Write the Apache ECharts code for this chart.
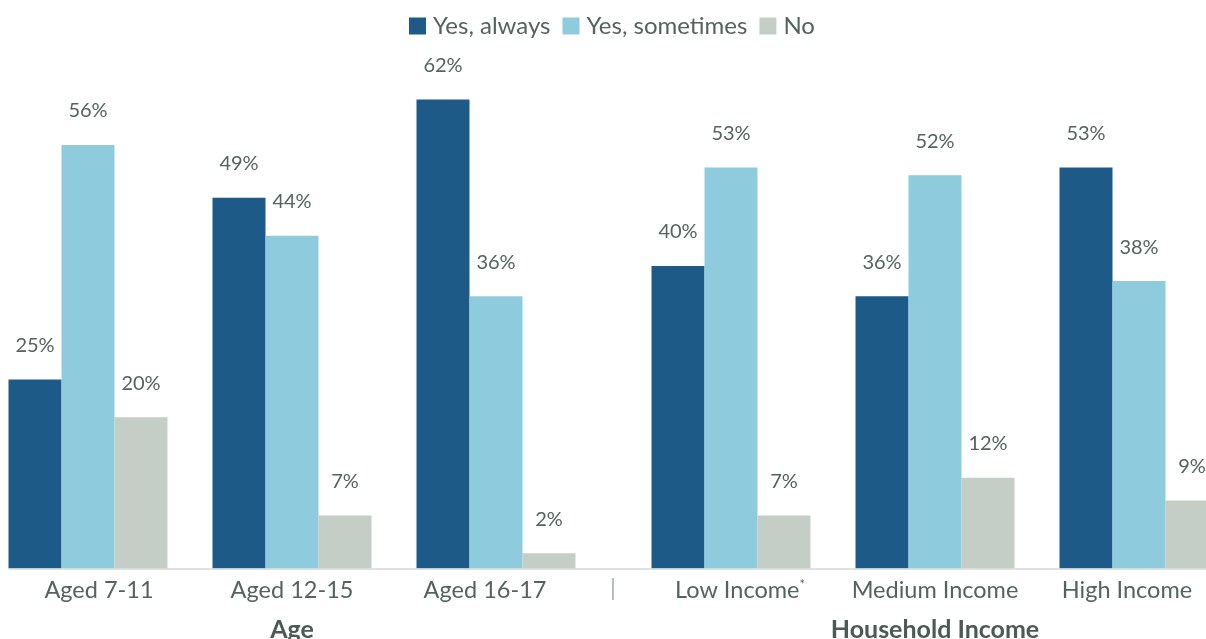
<!DOCTYPE html>
<html>
<head>
<meta charset="utf-8">
<script src="https://cdn.jsdelivr.net/npm/echarts@6/dist/echarts.min.js"></script>
<style>
  html, body { margin: 0; padding: 0; background: #ffffff; }
  #chart { width: 1206px; height: 639px; }
</style>
</head>
<body>
<div id="chart"></div>
<script>
// Survey answers by age group and by household income (percent)
const ageGroups = ['Aged 7-11', 'Aged 12-15', 'Aged 16-17'];
const incomeGroups = ['Low Income*', 'Medium Income', 'High Income'];
const seriesNames = ['Yes, always', 'Yes, sometimes', 'No'];

const ageAlways = [25, 49, 62];
const ageSometimes = [56, 44, 36];
const ageNo = [20, 7, 2];

const incomeAlways = [40, 36, 53];
const incomeSometimes = [53, 52, 38];
const incomeNo = [7, 12, 9];

const colors = ['#1e5a87', '#8ecbdc', '#c4cdc6'];
const textColor = '#56625d';
const fontFamily = 'Lato, "Open Sans", sans-serif';
const labelSize = 23.5;

const gridTop = 39;
const gridBottom = 70.5;
const yMax = 70;

// small horizontal nudges for the outer tick labels: [left, right] padding
const ageLabelPad = [[22, 0], [0, 0], [0, 22]];
const incomeLabelPad = [[18, 0], [0, 0], [0, 24]];

function makeSeries(values, idx, axisIndex) {
  return {
    name: seriesNames[idx],
    type: 'bar',
    xAxisIndex: axisIndex,
    yAxisIndex: axisIndex,
    barWidth: 53,
    barGap: '0%',
    itemStyle: { color: colors[idx] },
    label: {
      show: true,
      position: 'top',
      distance: 24,
      formatter: '{c}%',
      color: textColor,
      fontSize: 20,
      fontFamily: fontFamily
    },
    data: values
  };
}

function makeXAxis(gridIndex, cats, pads, title) {
  return {
    type: 'category',
    gridIndex: gridIndex,
    data: cats.map(function (c, i) {
      return { value: c, textStyle: { padding: [0, pads[i][1], 0, pads[i][0]] } };
    }),
    axisLine: { show: false },
    axisTick: { show: false },
    axisLabel: {
      interval: 0,
      hideOverlap: false,
      margin: 10,
      color: textColor,
      fontSize: labelSize,
      fontFamily: fontFamily,
      formatter: function (v) {
        if (v.endsWith('*')) return '{m|' + v.slice(0, -1) + '}{s|*}';
        return '{m|' + v + '}';
      },
      rich: {
        m: { fontSize: labelSize, color: textColor, fontFamily: fontFamily },
        s: { fontSize: 13, color: textColor, fontFamily: fontFamily, verticalAlign: 'top', padding: [0, 0, 10, 0] }
      }
    },
    name: title,
    nameLocation: 'middle',
    nameGap: 49,
    nameTextStyle: {
      color: '#4d5954',
      fontSize: 25,
      fontWeight: 'bold',
      fontFamily: fontFamily
    }
  };
}

function makeYAxis(gridIndex) {
  return {
    type: 'value',
    gridIndex: gridIndex,
    min: 0,
    max: yMax,
    show: false,
    splitLine: { show: false }
  };
}

const chart = echarts.init(document.getElementById('chart'), null, { renderer: 'canvas' });

const baselineY = 639 - gridBottom;

chart.setOption({
  backgroundColor: '#ffffff',
  animation: false,
  legend: {
    data: seriesNames,
    top: 9,
    left: 404,
    icon: 'rect',
    itemWidth: 17,
    itemHeight: 17,
    itemGap: 12,
    textStyle: { color: textColor, fontSize: 24, fontFamily: fontFamily, padding: [0, 0, 0, 2] }
  },
  grid: [
    { left: -14, width: 612, top: gridTop, bottom: gridBottom, outerBoundsMode: 'none', containLabel: false },
    { left: 629, width: 612, top: gridTop, bottom: gridBottom, outerBoundsMode: 'none', containLabel: false }
  ],
  xAxis: [
    makeXAxis(0, ageGroups, ageLabelPad, 'Age'),
    makeXAxis(1, incomeGroups, incomeLabelPad, 'Household Income')
  ],
  yAxis: [makeYAxis(0), makeYAxis(1)],
  graphic: [
    {
      type: 'line',
      z: 10,
      shape: { x1: 9, y1: baselineY + 0.5, x2: 1206, y2: baselineY + 0.5 },
      style: { stroke: '#d3d9d6', lineWidth: 1.5 }
    },
    {
      type: 'text',
      left: 610,
      top: baselineY + 8,
      style: { text: '|', fill: '#aab2ae', fontSize: 24, fontFamily: fontFamily }
    }
  ],
  series: [
    makeSeries(ageAlways, 0, 0),
    makeSeries(ageSometimes, 1, 0),
    makeSeries(ageNo, 2, 0),
    makeSeries(incomeAlways, 0, 1),
    makeSeries(incomeSometimes, 1, 1),
    makeSeries(incomeNo, 2, 1)
  ]
});
</script>
</body>
</html>
